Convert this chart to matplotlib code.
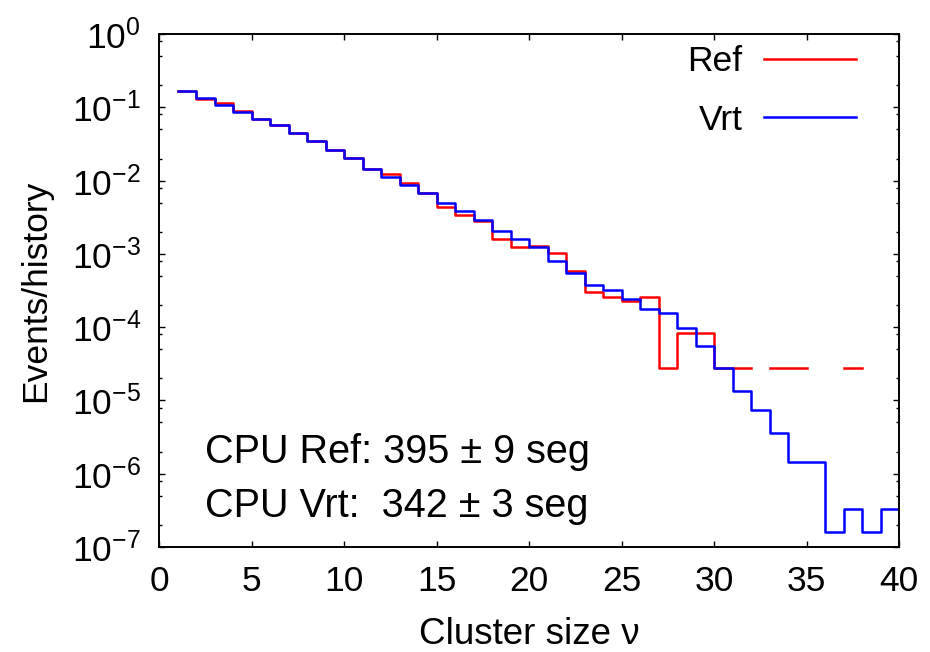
import numpy as np
import matplotlib
matplotlib.use("Agg")
import matplotlib.pyplot as plt
from matplotlib.ticker import LogLocator, NullFormatter, MultipleLocator

plt.rcParams['font.family'] = ['Liberation Sans', 'DejaVu Sans']
plt.rcParams['mathtext.fontset'] = 'custom'
plt.rcParams['mathtext.rm'] = 'Liberation Sans'
plt.rcParams['mathtext.it'] = 'Liberation Sans:italic'

# bin edges: cluster size 1..40
edges = np.arange(1, 41)

# events/history per bin (0 = empty bin, not drawn on log axis)
ref_vals = [0.167, 0.128, 0.113, 0.0899, 0.0686, 0.0574, 0.0451, 0.0351, 0.0261, 0.0201,
            0.01455, 0.0122, 0.0094, 0.00685, 0.0044, 0.0034, 0.0028, 0.00158, 0.00126, 0.00129,
            0.00102, 0.000584, 0.000306, 0.000261, 0.000228, 0.000256, 2.8e-5, 8.4e-5, 8.4e-5, 2.8e-5,
            2.8e-5, 0, 2.8e-5, 2.8e-5, 0, 0, 2.8e-5, 0, 0]
vrt_vals = [0.167, 0.132, 0.108, 0.0863, 0.070, 0.0574, 0.0451, 0.0351, 0.0261, 0.0201,
            0.01455, 0.0111, 0.0087, 0.0067, 0.0049, 0.00385, 0.0029, 0.00205, 0.00161, 0.00123,
            0.0008, 0.000555, 0.000377, 0.000322, 0.00024, 0.000175, 1.55e-4, 9.7e-5, 5.5e-5, 2.77e-5,
            1.35e-5, 7.4e-6, 3.57e-6, 1.46e-6, 1.46e-6, 1.62e-7, 3.27e-7, 1.62e-7, 3.27e-7]

labels = ["Ref", "Vrt"]
colors = ["#ff0000", "#0000ff"]
cpu_text = ["CPU Ref: 395 \u00b1 9 seg", "CPU Vrt:  342 \u00b1 3 seg"]


def steps(edges, vals):
    v = np.array(vals, dtype=float)
    v[v <= 0] = np.nan
    x = np.repeat(edges, 2)[1:-1]
    y = np.repeat(v, 2)
    return x, y


fig = plt.figure(figsize=(9.3, 6.52), dpi=100)
ax = fig.add_axes([159 / 930, 105 / 652, 740 / 930, 513 / 652])

for vals, lab, col in zip([ref_vals, vrt_vals], labels, colors):
    x, y = steps(edges, vals)
    ax.plot(x, y, color=col, lw=1.8, label=lab)

ax.set_yscale('log')
ax.set_xlim(0, 40)
ax.set_ylim(1e-7, 1)
ax.xaxis.set_major_locator(MultipleLocator(5))
ax.yaxis.set_major_locator(LogLocator(base=10, numticks=20))
ax.yaxis.set_minor_locator(LogLocator(base=10, subs=[2, 5, 8], numticks=20))
ax.yaxis.set_minor_formatter(NullFormatter())

ax.tick_params(which='both', direction='in', top=True, right=True, labelsize=25.5)
ax.tick_params(which='major', length=4, width=1)
ax.tick_params(which='minor', length=2.2, width=1)
ax.tick_params(axis='x', pad=13)
ax.tick_params(axis='y', pad=13)
for sp in ax.spines.values():
    sp.set_linewidth(1.4)

ax.set_xlabel("Cluster size \u03bd", fontsize=26.5, labelpad=14)
ax.set_ylabel("Events/history", fontsize=25.5, labelpad=14)

ax.legend(loc='upper right', bbox_to_anchor=(0.942, 0.978), frameon=False, markerfirst=False,
          fontsize=25.5, handlelength=2.6, handletextpad=0.6, labelspacing=0.72,
          borderaxespad=0, borderpad=0)

ax.text(0.062, 0.186, cpu_text[0], transform=ax.transAxes, fontsize=28.5, va='center')
ax.text(0.062, 0.079, cpu_text[1], transform=ax.transAxes, fontsize=28.5, va='center')

fig.savefig("out.png", dpi=100)
